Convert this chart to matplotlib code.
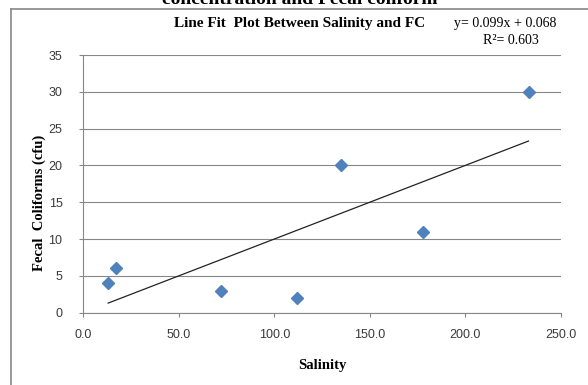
"""Line fit plot of fecal coliforms against salinity."""
import matplotlib
matplotlib.use('Agg')
import matplotlib.pyplot as plt
import numpy as np
from matplotlib.lines import Line2D

# values
salinity = [13, 17, 72, 112, 135, 178, 233]
fecal_coliforms = [4, 6, 3, 2, 20, 11, 30]
x_ticks = [0, 50, 100, 150, 200, 250]
y_ticks = [0, 5, 10, 15, 20, 25, 30, 35]
cut_title = 'concentration and Fecal coliform'
chart_title = 'Line Fit  Plot Between Salinity and FC'
equation = 'y= 0.099x + 0.068'
r_squared = 'R\u00b2= 0.603'

GRAY = '#878787'
BLUE = '#4F81BD'
SERIF = 'Liberation Serif'
SANS = 'Liberation Sans'

fig = plt.figure(figsize=(5.88, 3.85), dpi=100)
ax = fig.add_axes([83.3 / 588, 1 - 312.6 / 385, (561 - 83.3) / 588, (312.6 - 55) / 385])

# trend line from a least squares fit of the points
slope, intercept = np.polyfit(salinity, fecal_coliforms, 1)
fit_x = np.array([min(salinity), max(salinity)])
ax.plot(fit_x, slope * fit_x + intercept, color='#222222', lw=0.9, zorder=3)

ax.plot(salinity, fecal_coliforms, linestyle='none', marker='D', markersize=6,
        color=BLUE, markeredgecolor=BLUE, zorder=4)

ax.set_xlim(0, 250)
ax.set_ylim(0, 35)
ax.set_xticks(x_ticks)
ax.set_xticklabels([f'{v:.1f}' for v in x_ticks])
ax.set_yticks(y_ticks)
ax.set_yticklabels([str(v) for v in y_ticks])

ax.grid(axis='y', color=GRAY, lw=0.8)
ax.set_axisbelow(True)
for side in ['top', 'right']:
    ax.spines[side].set_visible(False)
for side in ['left', 'bottom']:
    ax.spines[side].set_color(GRAY)
    ax.spines[side].set_linewidth(0.8)

ax.tick_params(axis='both', color=GRAY, length=3, width=0.8, labelcolor='#3a3a3a')
ax.tick_params(axis='y', pad=12)
ax.tick_params(axis='x', pad=9)
for lab in ax.get_xticklabels() + ax.get_yticklabels():
    lab.set_family(SANS)
    lab.set_fontsize(9)

ax.set_xlabel('Salinity', family=SERIF, fontweight='bold', fontsize=10.5, va='center')
ax.set_ylabel('Fecal  Coliforms (cfu)', family=SERIF, fontweight='bold', fontsize=10.5,
              va='center')
ax.xaxis.set_label_coords(0.5, -0.207)
ax.yaxis.set_label_coords(-0.0927, 0.4255)

# outer chart border, cut by the picture edges
fig.add_artist(Line2D([10.5 / 588, 10.5 / 588], [-0.1, 1 - 9 / 385], color=GRAY, lw=1.2))
fig.add_artist(Line2D([10.5 / 588, 1.1], [1 - 9 / 385, 1 - 9 / 385], color=GRAY, lw=1.2))

fig.text(300 / 588, 1 - 4 / 385, cut_title, family=SERIF, fontweight='bold', fontsize=14,
         ha='center', va='baseline')
fig.text(300 / 588, 1 - 23 / 385, chart_title, family=SERIF, fontweight='bold', fontsize=11,
         ha='center', va='center')
fig.text(505 / 588, 1 - 23 / 385, equation, family=SERIF, fontsize=10, ha='center', va='center')
fig.text(511 / 588, 1 - 41 / 385, r_squared, family=SERIF, fontsize=10, ha='center', va='center')

fig.savefig('out.png', dpi=100)
